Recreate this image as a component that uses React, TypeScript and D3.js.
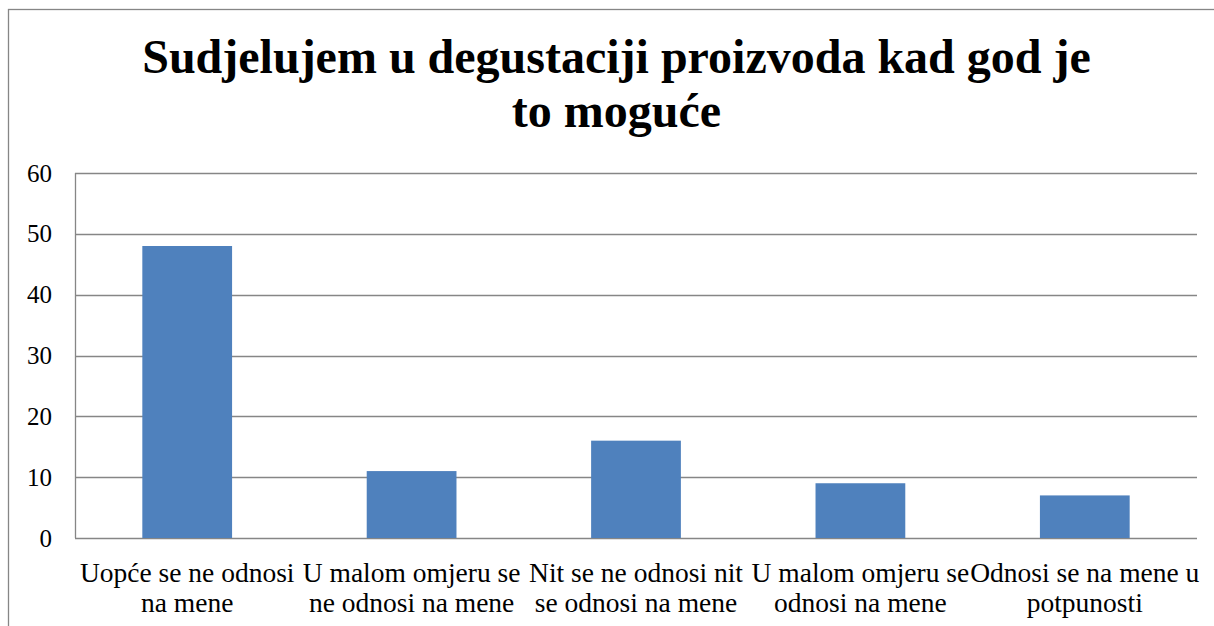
import React from "react";
import * as d3 from "d3";

const titleLines = ["Sudjelujem u degustaciji proizvoda kad god je", "to moguće"];
const categories = [
  "Uopće se ne odnosi na mene",
  "U malom omjeru se ne odnosi na mene",
  "Nit se ne odnosi nit se odnosi na mene",
  "U malom omjeru se odnosi na mene",
  "Odnosi se na mene u potpunosti",
];
const categoryLines = [
  ["Uopće se ne odnosi", "na mene"],
  ["U malom omjeru se", "ne odnosi na mene"],
  ["Nit se ne odnosi nit", "se odnosi na mene"],
  ["U malom omjeru se", "odnosi na mene"],
  ["Odnosi se na mene u", "potpunosti"],
];
const values = [48, 11, 16, 9, 7];
const yTicks = [0, 10, 20, 30, 40, 50, 60];

const W = 1214;
const H = 626;
const plot = { left: 75, right: 1197, top: 173, bottom: 538 };
const font = '"Liberation Serif", "DejaVu Serif", serif';

export default function App() {
  const x = d3
    .scaleBand<string>()
    .domain(categories)
    .range([plot.left, plot.right])
    .paddingInner(0.6)
    .paddingOuter(0.3);
  const y = d3.scaleLinear().domain([0, 60]).range([plot.bottom, plot.top]);

  return (
    <svg
      width={W}
      height={H}
      style={{ position: "absolute", left: 0, top: 0, background: "#fff", fontFamily: font }}
    >
      <rect x={8.5} y={9.5} width={1300} height={800} fill="#fff" stroke="#868686" strokeWidth={1.3} />
      {titleLines.map((t, i) => (
        <text
          key={i}
          x={616.5}
          y={73 + i * 54}
          textAnchor="middle"
          fontSize={48}
          fontWeight="bold"
          fill="#000"
          style={{ fontFamily: font }}
        >
          {t}
        </text>
      ))}
      {yTicks.map((t) => (
        <g key={t}>
          <line
            x1={plot.left}
            x2={plot.right}
            y1={Math.round(y(t)) + 0.5}
            y2={Math.round(y(t)) + 0.5}
            stroke="#868686"
            strokeWidth={1.3}
          />
          <text x={52} y={y(t) + 8.5} textAnchor="end" fontSize={25} fill="#000" style={{ fontFamily: font }}>
            {t}
          </text>
        </g>
      ))}
      <line
        x1={plot.left + 0.5}
        x2={plot.left + 0.5}
        y1={plot.top}
        y2={plot.bottom}
        stroke="#868686"
        strokeWidth={1.3}
      />
      {categories.map((c, i) => (
        <rect
          key={c}
          x={x(c)!}
          y={y(values[i])}
          width={x.bandwidth()}
          height={y(0) - y(values[i])}
          fill="#4F81BD"
        />
      ))}
      {categories.map((c, i) => (
        <text
          key={c}
          x={x(c)! + x.bandwidth() / 2}
          textAnchor="middle"
          fontSize={27.5}
          fill="#000"
          style={{ fontFamily: font }}
        >
          {categoryLines[i].map((l, j) => (
            <tspan key={j} x={x(c)! + x.bandwidth() / 2} y={581.5 + j * 30.5}>
              {l}
            </tspan>
          ))}
        </text>
      ))}
    </svg>
  );
}
